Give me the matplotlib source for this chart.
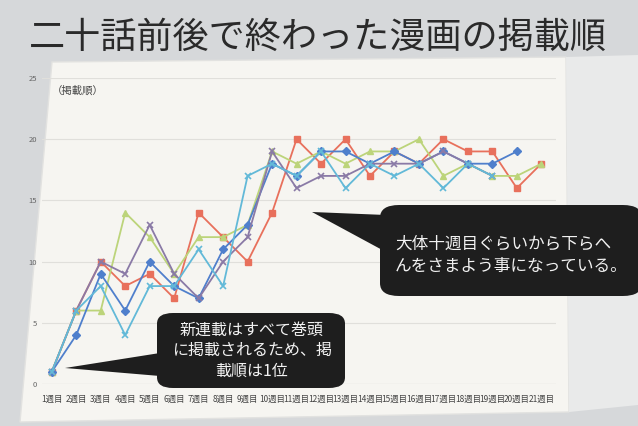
import numpy as np
import matplotlib.pyplot as plt
from matplotlib.patches import Polygon, FancyBboxPatch

plt.rcParams['font.family'] = ['Noto Sans CJK JP', 'DejaVu Sans']

W, H = 638, 426

# chart data (publication order per week)
weeks = [f'{i}週目' for i in range(1, 22)]
nan = np.nan
red = [1, 6, 10, 8, 9, 7, 14, 12, 10, 14, 20, 18, 20, 17, 19, 18, 20, 19, 19, 16, 18]
green = [1, 6, 6, 14, 12, 9, 12, 12, 13, 19, 18, 19, 18, 19, 19, 20, 17, 18, 17, 17, 18]
blue = [1, 4, 9, 6, 10, 8, 7, 11, 13, 18, 17, 19, 19, 18, 19, 18, 19, 18, 18, 19, nan]
purple = [1, 6, 10, 9, 13, 9, 7, 10, 12, 19, 16, 17, 17, 18, 18, 18, 19, 18, 17, nan, nan]
aqua = [1, 6, 8, 4, 8, 8, 11, 8, 17, 18, 17, 19, 16, 18, 17, 18, 16, 18, 17, nan, nan]

title = '二十話前後で終わった漫画の掲載順'
note1 = '新連載はすべて巻頭\nに掲載されるため、掲\n載順は1位'
note2 = '大体十週目ぐらいから下らへ\nんをさまよう事になっている。'


def px(x, y):
    return x / W, 1 - y / H


fig = plt.figure(figsize=(W / 100, H / 100), dpi=100)
fig.patch.set_facecolor('#d6d8da')

# white page panel
panel = Polygon([px(52, 62), px(566, 57), px(569, 412), px(20, 422)],
                closed=True, transform=fig.transFigure, zorder=-10,
                facecolor='#f6f5f1', edgecolor='#e2e2e0', lw=1)
fig.patches.append(panel)
# page on right side
right = Polygon([px(566, 57), px(638, 55), px(638, 405), px(569, 412)],
                closed=True, transform=fig.transFigure, zorder=-10,
                facecolor='#e9eaea', edgecolor='none')
fig.patches.append(right)

fig.text(*px(318, 38), title, ha='center', va='center', fontsize=26,
         color='#2a2a2a')

l, r, t, b = 42, 556, 78, 384
ax = fig.add_axes([l / W, 1 - b / H, (r - l) / W, (b - t) / H])
ax.set_facecolor('none')
ax.set_zorder(1)

x = np.arange(1, 22)
ax.plot(x, red, color='#e8705c', marker='s', ms=5, lw=1.3)
ax.plot(x, green, color='#bcd47a', marker='^', ms=5, lw=1.3)
ax.plot(x, blue, color='#4f7fcc', marker='D', ms=4, lw=1.3)
ax.plot(x, purple, color='#8a7aa6', marker='x', ms=5, mew=1.2, lw=1.3)
ax.plot(x, aqua, color='#62b9d8', marker='x', ms=5, mew=1.2, lw=1.3)

ax.set_xlim(0.6, 21.6)
ax.set_ylim(0, 25)
ax.set_yticks(range(0, 26, 5))
ax.set_xticks(x)
ax.set_xticklabels(weeks, fontsize=6, color='#444444')
ax.tick_params(axis='y', labelsize=5.5, colors='#666666', length=0)
ax.tick_params(axis='x', length=0, pad=8)
ax.grid(axis='y', color='#e0dfdb', lw=0.8)
ax.set_axisbelow(True)
for s in ax.spines.values():
    s.set_visible(False)
ax.axhline(0, color='#d5d4d0', lw=0.8, zorder=0)
ax.text(1.0, 24, '（掲載順）', fontsize=7.5, color='#444444', va='center')

# callout 1
tail1 = Polygon([px(65, 368), px(160, 353), px(160, 376)], closed=True, zorder=5,
                transform=fig.transFigure, facecolor='#1e1e1e', edgecolor='none')
fig.patches.append(tail1)
box1 = FancyBboxPatch(px(157, 388), 188 / W, 75 / H, zorder=5,
                      boxstyle='round,pad=0,rounding_size=0.025',
                      transform=fig.transFigure, facecolor='#1e1e1e',
                      edgecolor='none')
fig.patches.append(box1)
fig.text(*px(252, 351), note1, ha='center', va='center', fontsize=11.5,
         color='#f2f2f2', linespacing=1.25, zorder=6)

# callout 2
tail2 = Polygon([px(312, 212), px(386, 215), px(386, 252)], closed=True, zorder=5,
                transform=fig.transFigure, facecolor='#1e1e1e', edgecolor='none')
fig.patches.append(tail2)
box2 = FancyBboxPatch(px(380, 296), 262 / W, 91 / H, zorder=5,
                      boxstyle='round,pad=0,rounding_size=0.03',
                      transform=fig.transFigure, facecolor='#1e1e1e',
                      edgecolor='none')
fig.patches.append(box2)
fig.text(*px(395, 255), note2, ha='left', va='center', fontsize=12,
         color='#f2f2f2', linespacing=1.4, zorder=6)

fig.savefig('out.png', dpi=100)
